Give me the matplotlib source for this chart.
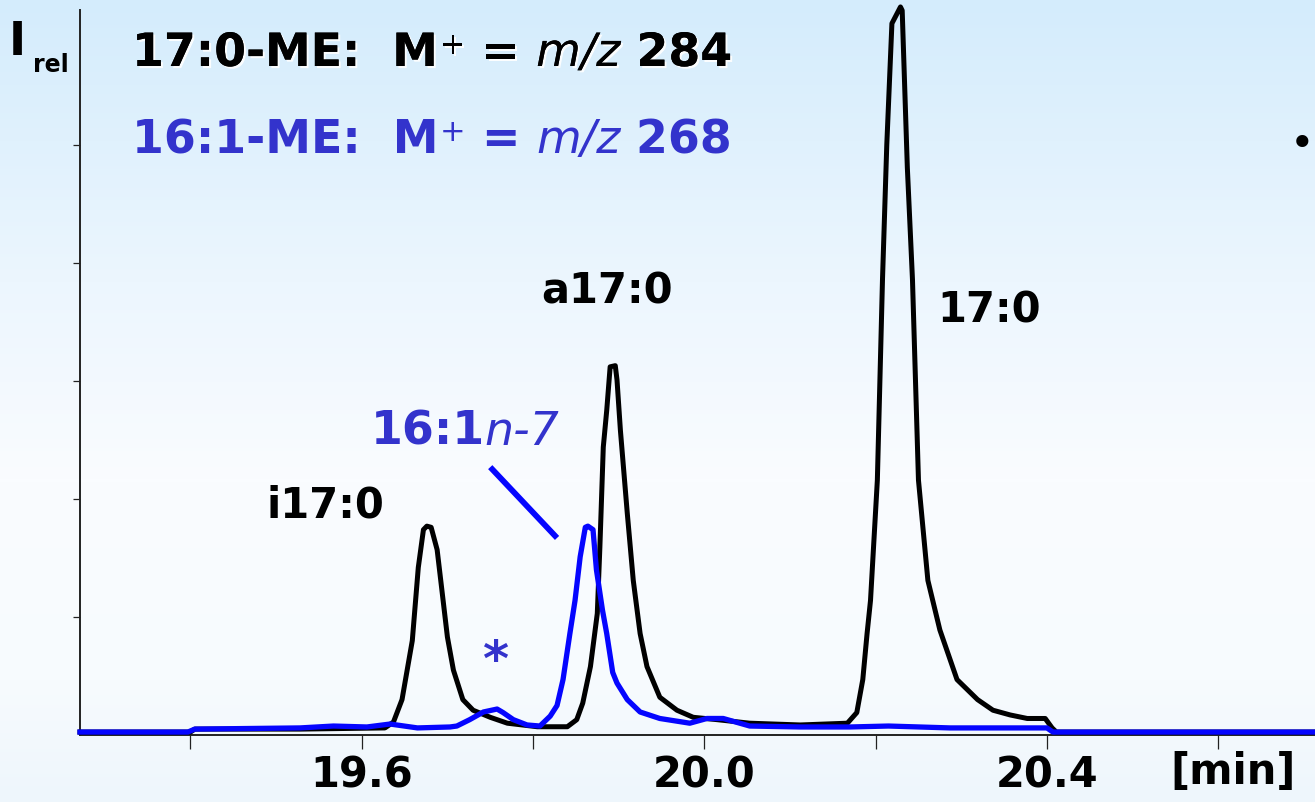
import numpy as np
import matplotlib
matplotlib.use("Agg")
import matplotlib.pyplot as plt
import matplotlib.patheffects as pe
from matplotlib.colors import LinearSegmentedColormap

# 17:0-ME trace (M+ = m/z 284), retention time [min] vs relative intensity
t_170 = [19.271, 19.400, 19.405, 19.528, 19.627, 19.637, 19.647, 19.659, 19.666, 19.672,
         19.676, 19.681, 19.688, 19.694, 19.700, 19.707, 19.718, 19.730, 19.750, 19.770,
         19.805, 19.840, 19.851, 19.858, 19.867, 19.875, 19.878, 19.882, 19.886, 19.890,
         19.896, 19.898, 19.902, 19.910, 19.917, 19.925, 19.933, 19.948, 19.968, 19.987,
         20.015, 20.053, 20.112, 20.167, 20.178, 20.185, 20.190, 20.194, 20.202, 20.208,
         20.213, 20.219, 20.229, 20.231, 20.237, 20.243, 20.250, 20.261, 20.275, 20.295,
         20.319, 20.337, 20.357, 20.377, 20.398, 20.406, 20.411, 20.713]
i_170 = [0.025, 0.025, 0.05, 0.05, 0.06, 0.11, 0.30, 0.80, 1.42, 1.74,
         1.77, 1.76, 1.57, 1.20, 0.83, 0.55, 0.30, 0.21, 0.15, 0.10,
         0.07, 0.07, 0.13, 0.27, 0.58, 1.03, 1.59, 2.44, 2.75, 3.12,
         3.13, 3.01, 2.58, 1.88, 1.31, 0.86, 0.58, 0.32, 0.21, 0.15,
         0.13, 0.10, 0.085, 0.10, 0.19, 0.47, 0.86, 1.14, 2.16, 3.86,
         5.00, 6.03, 6.17, 6.14, 4.81, 3.86, 2.16, 1.31, 0.89, 0.47,
         0.30, 0.21, 0.17, 0.14, 0.14, 0.06, 0.025, 0.025]

# 16:1-ME trace (M+ = m/z 268)
t_161 = [19.271, 19.397, 19.405, 19.528, 19.567, 19.606, 19.633, 19.665, 19.703, 19.711,
         19.726, 19.742, 19.758, 19.765, 19.777, 19.793, 19.808, 19.820, 19.828, 19.835,
         19.843, 19.849, 19.855, 19.861, 19.864, 19.870, 19.874, 19.881, 19.886, 19.893,
         19.898, 19.910, 19.925, 19.948, 19.983, 20.003, 20.022, 20.053, 20.112, 20.170,
         20.215, 20.287, 20.400, 20.407, 20.713]
i_161 = [0.025, 0.025, 0.05, 0.06, 0.076, 0.068, 0.093, 0.06, 0.068, 0.076,
         0.13, 0.195, 0.22, 0.19, 0.13, 0.085, 0.076, 0.16, 0.25, 0.47,
         0.86, 1.14, 1.51, 1.76, 1.77, 1.74, 1.40, 1.06, 0.86, 0.53,
         0.44, 0.30, 0.195, 0.14, 0.10, 0.14, 0.14, 0.076, 0.068, 0.068,
         0.076, 0.06, 0.06, 0.025, 0.025]

tick_pos = [19.4, 19.6, 19.8, 20.0, 20.2, 20.4, 20.6]
tick_lab = ["", "19.6", "", "20.0", "", "20.4", ""]

# peak labels: (text, time, intensity)
peak_labels = [("i17:0", 19.489, 1.839), ("a17:0", 19.809, 3.661), ("17:0", 20.272, 3.50)]

BLUE_TXT = "#3333cc"
BLUE_LINE = "#0505ff"
FONT = "DejaVu Sans"

fig = plt.figure(figsize=(13.15, 8.02), dpi=100)

# background gradient
bg = fig.add_axes([0, 0, 1, 1], zorder=-10)
cmap = LinearSegmentedColormap.from_list(
    "bg", [(0.0, "#d4ecfc"), (0.35, "#ecf6fe"), (0.6, "#fafcff"),
           (0.85, "#f7fbfe"), (1.0, "#eef6fc")])
bg.imshow(np.linspace(0, 1, 256)[:, None], aspect="auto", cmap=cmap,
          extent=[0, 1, 0, 1])
bg.axis("off")

ax = fig.add_axes([80 / 1315, 67 / 802, 1 - 80 / 1315, 725 / 802])
ax.set_facecolor("none")
ax.set_xlim(19.271, 20.713)
ax.set_ylim(0, 725 / 118)

ax.plot(t_170, i_170, color="black", lw=3.6, clip_on=False, zorder=3)
ax.plot(t_161, i_161, color=BLUE_LINE, lw=3.8, clip_on=False, zorder=4)

for s in ["top", "right"]:
    ax.spines[s].set_visible(False)
for s in ["left", "bottom"]:
    ax.spines[s].set_linewidth(1.4)
    ax.spines[s].set_color("#222222")

ax.set_xticks(tick_pos)
ax.set_xticklabels(tick_lab, fontsize=30, fontweight="bold", family=FONT)
ax.tick_params(axis="x", length=10, width=0.9, color="#222222", pad=4)
ax.set_yticks([1, 2, 3, 4, 5])
ax.set_yticklabels([])
ax.tick_params(axis="y", length=5, width=0.9, color="#222222")

for txt, tx, ty in peak_labels:
    ax.text(tx, ty, txt, fontsize=30, fontweight="bold", family=FONT,
            ha="left", va="baseline", color="black", zorder=5)

# 16:1n-7 label with pointer
lab = ax.text(19.610, 2.458, "16:1", fontsize=33, fontweight="bold", family=FONT,
              ha="left", va="baseline", color=BLUE_TXT, zorder=5)
ax.annotate("n-7", xy=(1, 0), xycoords=lab, ha="left", va="bottom",
            fontsize=33, style="italic", family=FONT, color=BLUE_TXT)
ax.plot([19.750, 19.828], [2.27, 1.67], color=BLUE_LINE, lw=4.2,
        solid_capstyle="butt", zorder=5)
ax.text(19.756, 0.50, "*", fontsize=36, fontweight="bold", family=FONT,
        ha="center", va="baseline", color=BLUE_TXT, zorder=5)


def title_line(x, y, lead, mz, color, effects=None):
    kw = dict(family=FONT, color=color, path_effects=effects)
    t0 = fig.text(x, y, lead + "  M", fontsize=33, fontweight="bold",
                  ha="left", va="baseline", **kw)
    p = ax.annotate("+", xy=(1, 1), xycoords=t0, xytext=(1, 0),
                    textcoords="offset points", ha="left", va="top",
                    fontsize=22, **kw)
    t1 = ax.annotate(" = ", xy=(1, 0), xycoords=(p, t0), ha="left", va="bottom",
                     fontsize=33, fontweight="bold", **kw)
    t2 = ax.annotate("m/z", xy=(1, 0), xycoords=t1, ha="left", va="bottom",
                     fontsize=33, style="italic", **kw)
    ax.annotate(" " + mz, xy=(1, 0), xycoords=t2, ha="left", va="bottom",
                fontsize=33, fontweight="bold", **kw)


glow = [pe.withSimplePatchShadow(offset=(1.5, -1.5), shadow_rgbFace="white",
                                 alpha=0.9), pe.Normal()]
title_line(0.1004, 0.9177, "17:0-ME:", "284", "black", glow)
title_line(0.1004, 0.809, "16:1-ME:", "268", BLUE_TXT)

# axis labels
fig.text(0.0068, 0.931, "I", fontsize=33, fontweight="bold", family=FONT,
         ha="left", va="baseline")
fig.text(0.0251, 0.910, "rel", fontsize=17, fontweight="bold", family=FONT,
         ha="left", va="baseline")
fig.text(0.890, 0.0224, "[min]", fontsize=30, fontweight="bold", family=FONT,
         ha="left", va="baseline")
fig.text(0.9995, 0.819, "\u2022", fontsize=30, family=FONT, ha="right",
         va="center")

fig.savefig("out.png", dpi=100)
